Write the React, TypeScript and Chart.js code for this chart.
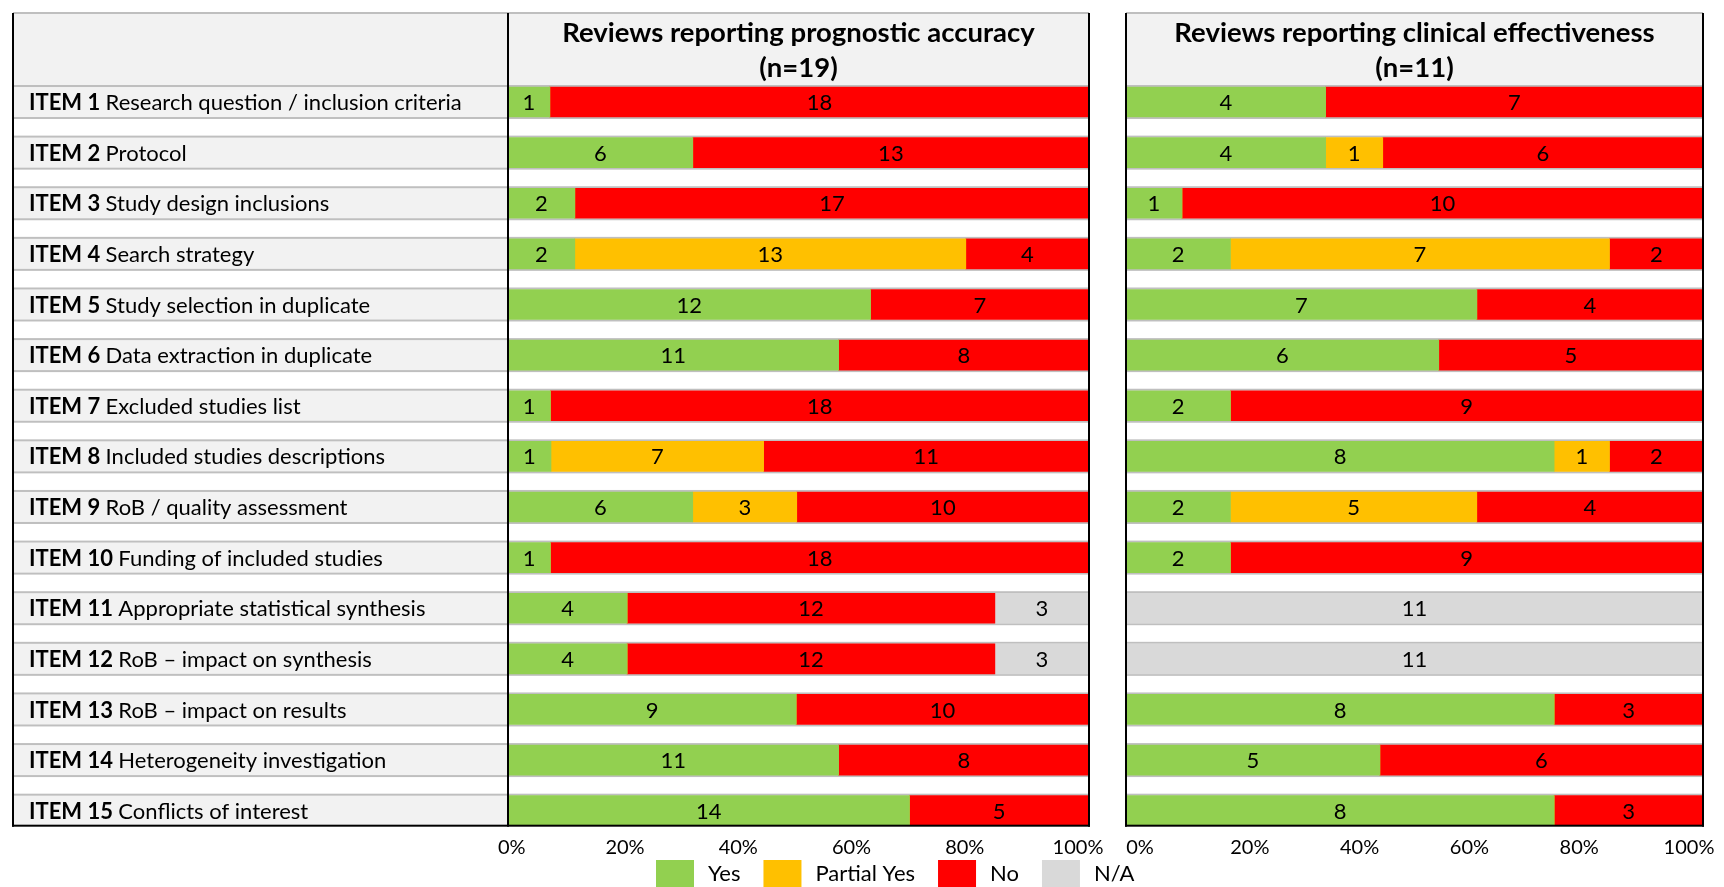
import React, { useEffect, useRef } from "react";
import { Chart, registerables } from "chart.js";

Chart.register(...registerables);

// ---------- data ----------
const itemNumbers = [
  "ITEM 1", "ITEM 2", "ITEM 3", "ITEM 4", "ITEM 5", "ITEM 6", "ITEM 7", "ITEM 8",
  "ITEM 9", "ITEM 10", "ITEM 11", "ITEM 12", "ITEM 13", "ITEM 14", "ITEM 15",
];
const itemTitles = [
  "Research question / inclusion criteria",
  "Protocol",
  "Study design inclusions",
  "Search strategy",
  "Study selection in duplicate",
  "Data extraction in duplicate",
  "Excluded studies list",
  "Included studies descriptions",
  "RoB / quality assessment",
  "Funding of included studies",
  "Appropriate statistical synthesis",
  "RoB \u2013 impact on synthesis",
  "RoB \u2013 impact on results",
  "Heterogeneity investigation",
  "Conflicts of interest",
];
const responseCategories = ["Yes", "Partial Yes", "No", "N/A"];
const xTickValues = [0, 20, 40, 60, 80, 100];

const progTitle = ["Reviews reporting prognostic accuracy", "(n=19)"];
const clinTitle = ["Reviews reporting clinical effectiveness", "(n=11)"];

// Prognostic accuracy reviews: counts shown as labels
const progYesCount = [1, 6, 2, 2, 12, 11, 1, 1, 6, 1, 4, 4, 9, 11, 14];
const progPartialCount = [0, 0, 0, 13, 0, 0, 0, 7, 3, 0, 0, 0, 0, 0, 0];
const progNoCount = [18, 13, 17, 4, 7, 8, 18, 11, 10, 18, 12, 12, 10, 8, 5];
const progNACount = [0, 0, 0, 0, 0, 0, 0, 0, 0, 0, 3, 3, 0, 0, 0];
// Prognostic accuracy reviews: bar shares (%) as drawn
const progYesPct = [7.2, 31.8, 11.5, 11.5, 62.4, 56.9, 7.3, 7.4, 31.8, 7.3, 20.5, 20.5, 49.6, 56.9, 69.1];
const progPartialPct = [0, 0, 0, 67.3, 0, 0, 0, 36.6, 17.9, 0, 0, 0, 0, 0, 0];
const progNoPct = [92.8, 68.2, 88.5, 21.2, 37.6, 43.1, 92.7, 56.0, 50.3, 92.7, 63.3, 63.3, 50.4, 43.1, 30.9];
const progNAPct = [0, 0, 0, 0, 0, 0, 0, 0, 0, 0, 16.2, 16.2, 0, 0, 0];

// Clinical effectiveness reviews: counts shown as labels
const clinYesCount = [4, 4, 1, 2, 7, 6, 2, 8, 2, 2, 0, 0, 8, 5, 8];
const clinPartialCount = [0, 1, 0, 7, 0, 0, 0, 1, 5, 0, 0, 0, 0, 0, 0];
const clinNoCount = [7, 6, 10, 2, 4, 5, 9, 2, 4, 9, 0, 0, 3, 6, 3];
const clinNACount = [0, 0, 0, 0, 0, 0, 0, 0, 0, 0, 11, 11, 0, 0, 0];
// Clinical effectiveness reviews: bar shares (%) as drawn
const clinYesPct = [34.6, 34.6, 9.7, 18.1, 60.8, 54.2, 18.1, 74.2, 18.1, 18.1, 0, 0, 74.2, 44.0, 74.2];
const clinPartialPct = [0, 9.9, 0, 65.7, 0, 0, 0, 9.6, 42.7, 0, 0, 0, 0, 0, 0];
const clinNoPct = [65.4, 55.5, 90.3, 16.2, 39.2, 45.8, 81.9, 16.2, 39.2, 81.9, 0, 0, 25.8, 56.0, 25.8];
const clinNAPct = [0, 0, 0, 0, 0, 0, 0, 0, 0, 0, 100, 100, 0, 0, 0];

// ---------- styles / layout ----------
const W = 1724;
const H = 887;
const COLORS = ["#92D050", "#FFC000", "#FF0000", "#D9D9D9"];
const ROW_BG = "#F2F2F2";
const LINE_GRAY = "#BFBFBF";
const FONT = "Lato, 'Open Sans', sans-serif";
const BAR_THICKNESS = 30;
const TABLE_LEFT = 13;
const HEADER_TOP = 13;
const LABEL_X = 29;
const LABEL_SIZE = 22;
const VALUE_SIZE = 22;
const TICK_SIZE = 20;
const TITLE_SIZE = 27.5;
const LEGEND_SIZE = 22;
const LEGEND_X = 656;
const LEGEND_TOP = 860;
const LEGEND_BOX_W = 38;
const LEGEND_BOX_H = 27;
const LEGEND_TEXT_GAP = 14;
const LEGEND_ITEM_GAP = 23;
const PAD_TOP = 76.7;
const PAD_BOTTOM = 27;

type PanelCfg = {
  title: string[];
  table: boolean;
  legend: boolean;
  left: number;
  right: number;
  tickInset: [number, number]; // extra axis range used only for the tick-label axis
};

function makeDecor(cfg: PanelCfg) {
  return {
    id: "panelDecor",
    beforeDatasetsDraw(chart: any) {
      const { ctx, chartArea: a, scales } = chart;
      const ys = scales.y;
      const n = chart.data.labels.length;
      const half = BAR_THICKNESS / 2;
      const x0 = cfg.table ? TABLE_LEFT : a.left;
      const firstTop = ys.getPixelForValue(0) - half;
      ctx.save();
      ctx.fillStyle = ROW_BG;
      ctx.fillRect(x0, HEADER_TOP, a.right - x0, firstTop - HEADER_TOP);
      ctx.fillStyle = LINE_GRAY;
      ctx.fillRect(x0, HEADER_TOP - 1, a.right - x0, 2);
      for (let i = 0; i < n; i++) {
        const cy = ys.getPixelForValue(i);
        const top = cy - half;
        const bot = cy + half;
        if (cfg.table) {
          ctx.fillStyle = ROW_BG;
          ctx.fillRect(x0, top, a.left - x0, bot - top);
        }
        ctx.fillStyle = LINE_GRAY;
        ctx.fillRect(x0, top - 2, a.right - x0, 2);
        if (i < n - 1) ctx.fillRect(x0, bot, a.right - x0, 2);
        if (cfg.table) {
          ctx.fillStyle = "#000";
          ctx.textBaseline = "middle";
          ctx.textAlign = "left";
          ctx.font = `bold ${LABEL_SIZE}px ${FONT}`;
          const num = itemNumbers[i];
          ctx.fillText(num, LABEL_X, cy + 1);
          const w = ctx.measureText(num + " ").width;
          ctx.font = `${LABEL_SIZE}px ${FONT}`;
          ctx.fillText(chart.data.labels[i], LABEL_X + w, cy + 1);
        }
      }
      ctx.restore();
    },
    afterDatasetsDraw(chart: any) {
      const { ctx } = chart;
      ctx.save();
      ctx.fillStyle = "#000";
      ctx.textAlign = "center";
      ctx.textBaseline = "middle";
      ctx.font = `${VALUE_SIZE}px ${FONT}`;
      chart.data.datasets.forEach((ds: any, di: number) => {
        const meta = chart.getDatasetMeta(di);
        meta.data.forEach((el: any, i: number) => {
          const c = ds.counts[i];
          if (!c) return;
          const p = el.getProps(["x", "base", "y"], true);
          ctx.fillText(String(c), (p.x + p.base) / 2, p.y + 1);
        });
      });
      ctx.restore();
    },
    afterDraw(chart: any) {
      const { ctx, chartArea: a, scales } = chart;
      const ys = scales.y;
      const n = chart.data.labels.length;
      const lastBottom = ys.getPixelForValue(n - 1) + BAR_THICKNESS / 2;
      const x0 = cfg.table ? TABLE_LEFT : a.left;
      ctx.save();
      ctx.fillStyle = "#000";
      const vlines = cfg.table ? [TABLE_LEFT, a.left, a.right] : [a.left, a.right];
      vlines.forEach((x) => ctx.fillRect(x - 1, HEADER_TOP, 2, lastBottom - HEADER_TOP + 1));
      ctx.fillRect(x0 - 1, lastBottom - 1, a.right - x0 + 2, 2);

      // panel title
      ctx.textAlign = "center";
      ctx.textBaseline = "middle";
      ctx.font = `bold ${TITLE_SIZE}px ${FONT}`;
      const cx = (a.left + a.right) / 2;
      ctx.fillText(cfg.title[0], cx, 33);
      ctx.fillText(cfg.title[1], cx, 68);

      if (cfg.legend) {
        let x = LEGEND_X;
        ctx.textAlign = "left";
        ctx.font = `${LEGEND_SIZE}px ${FONT}`;
        chart.data.datasets.forEach((ds: any) => {
          ctx.fillStyle = ds.backgroundColor;
          ctx.fillRect(x, LEGEND_TOP, LEGEND_BOX_W, LEGEND_BOX_H);
          ctx.fillStyle = "#000";
          const tx = x + LEGEND_BOX_W + LEGEND_TEXT_GAP;
          ctx.fillText(ds.label, tx, LEGEND_TOP + 14);
          x = tx + ctx.measureText(ds.label).width + LEGEND_ITEM_GAP;
        });
      }
      ctx.restore();
    },
  };
}

function buildDatasets(pcts: number[][], counts: number[][]) {
  return responseCategories.map((label, k) => ({
    label,
    data: pcts[k],
    counts: counts[k],
    backgroundColor: COLORS[k],
    borderWidth: 0,
    barThickness: BAR_THICKNESS,
  }));
}

function makeConfig(datasets: any[], cfg: PanelCfg): any {
  return {
    type: "bar",
    data: { labels: itemTitles, datasets },
    options: {
      indexAxis: "y",
      responsive: false,
      animation: false,
      devicePixelRatio: 1,
      layout: {
        padding: { left: cfg.left, right: W - cfg.right, top: PAD_TOP, bottom: PAD_BOTTOM },
      },
      scales: {
        x: {
          stacked: true,
          min: 0,
          max: 100,
          display: false,
        },
        xTicks: {
          type: "linear",
          axis: "x",
          position: "bottom",
          min: -cfg.tickInset[0],
          max: 100 + cfg.tickInset[1],
          grid: { display: false, drawTicks: false, tickLength: 0 },
          border: { display: false },
          afterBuildTicks: (scale: any) => {
            scale.ticks = xTickValues.map((v) => ({ value: v }));
          },
          ticks: {
            autoSkip: false,
            maxRotation: 0,
            padding: 0,
            color: "#000",
            font: { family: FONT, size: TICK_SIZE },
            callback: (v: any) => `${v}%`,
          },
        },
        y: { stacked: true, display: false },
      },
      plugins: {
        legend: { display: false },
        tooltip: { enabled: false },
      },
    },
    plugins: [makeDecor(cfg)],
  };
}

export default function App() {
  const ref1 = useRef<HTMLCanvasElement>(null);
  const ref2 = useRef<HTMLCanvasElement>(null);

  useEffect(() => {
    let c1: Chart | null = null;
    let c2: Chart | null = null;
    let cancelled = false;
    const start = () => {
      if (cancelled || !ref1.current || !ref2.current) return;
      c1 = new Chart(
        ref1.current,
        makeConfig(
          buildDatasets(
            [progYesPct, progPartialPct, progNoPct, progNAPct],
            [progYesCount, progPartialCount, progNoCount, progNACount]
          ),
          { title: progTitle, table: true, legend: true, left: 508, right: 1089, tickInset: [0.67, 1.94] }
        )
      );
      c2 = new Chart(
        ref2.current,
        makeConfig(
          buildDatasets(
            [clinYesPct, clinPartialPct, clinNoPct, clinNAPct],
            [clinYesCount, clinPartialCount, clinNoCount, clinNACount]
          ),
          { title: clinTitle, table: false, legend: false, left: 1126, right: 1703, tickInset: [2.55, 2.55] }
        )
      );
    };
    const fonts: any = (document as any).fonts;
    if (fonts && fonts.load) {
      Promise.all([fonts.load(`16px Lato`), fonts.load(`bold 16px Lato`)])
        .catch(() => null)
        .then(start);
    } else {
      start();
    }
    return () => {
      cancelled = true;
      if (c1) c1.destroy();
      if (c2) c2.destroy();
    };
  }, []);

  const canvasStyle: React.CSSProperties = {
    position: "absolute",
    left: 0,
    top: 0,
    width: W,
    height: H,
  };
  return (
    <div style={{ position: "fixed", left: 0, top: 0, width: W, height: H, background: "#fff", overflow: "hidden" }}>
      <canvas ref={ref1} width={W} height={H} style={canvasStyle} />
      <canvas ref={ref2} width={W} height={H} style={canvasStyle} />
    </div>
  );
}
